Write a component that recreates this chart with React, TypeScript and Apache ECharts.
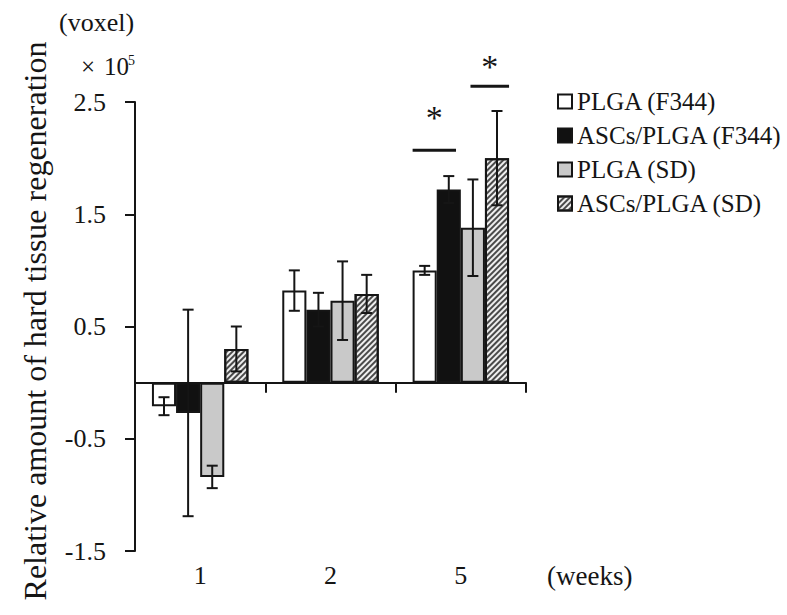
import React, { useEffect, useRef } from "react";
import * as echarts from "echarts";

const categories = ["1", "2", "5"];
const seriesNames = ["PLGA (F344)", "ASCs/PLGA (F344)", "PLGA (SD)", "ASCs/PLGA (SD)"];
const plgaF344 = [-0.21, 0.82, 1.0];
const ascsF344 = [-0.27, 0.65, 1.72];
const plgaSD = [-0.84, 0.73, 1.38];
const ascsSD = [0.3, 0.79, 2.0];
const plgaF344Err = [0.08, 0.18, 0.04];
const ascsF344Err = [0.92, 0.15, 0.12];
const plgaSDErr = [0.1, 0.35, 0.43];
const ascsSDErr = [0.2, 0.17, 0.42];
const yTickLabels = ["-1.5", "-0.5", "0.5", "1.5", "2.5"];
// significance marks: [category index, line value, asterisk value, from bar, to bar]
const sigMarks = [
  [2, 2.07, 2.4, 0, 1.8],
  [2, 2.64, 2.85, 2.4, 4],
];

const FONT = "'Liberation Serif', 'Times New Roman', serif";
const INK = "#151515";
const GAP = 0.26;
const N = 4;

export default function App() {
  const ref = useRef<HTMLDivElement>(null);
  useEffect(() => {
    if (!ref.current) return;
    const chart = echarts.init(ref.current, null, { renderer: "svg" });
    const values = [plgaF344, ascsF344, plgaSD, ascsSD];
    const errs = [plgaF344Err, ascsF344Err, plgaSDErr, ascsSDErr];
    const colors = ["#ffffff", "#111111", "#c9c9c9", "#eeeeee"];

    const errData: number[][] = [];
    values.forEach((vals, si) => {
      vals.forEach((v, ci) => errData.push([ci, si, v, errs[si][ci]]));
    });

    const barSeries = values.map((vals, si) => ({
      type: "bar",
      name: seriesNames[si],
      data: vals,
      xAxisIndex: 0,
      yAxisIndex: 0,
      barGap: "0%",
      barCategoryGap: GAP * 100 + "%",
      z: 2,
      itemStyle: {
        color: colors[si],
        borderColor: INK,
        borderWidth: 2,
        ...(si === 3
          ? {
              decal: {
                symbol: "rect",
                symbolSize: 1,
                dashArrayX: [1, 0],
                dashArrayY: [1.6, 1.9],
                rotation: -Math.PI / 4,
                color: "#4a4a4a",
              },
            }
          : {}),
      },
    }));

    const barX = (api: any, cat: number, pos: number) => {
      const band = api.size([1, 0])[0];
      const bw = (band * (1 - GAP)) / N;
      return api.coord([cat, 0])[0] - (band * (1 - GAP)) / 2 + pos * bw;
    };

    const option: any = {
      animation: false,
      grid: { left: 135, right: 261, top: 102, bottom: 64, containLabel: false },
      legend: {
        orient: "vertical",
        left: 552,
        top: 84,
        icon: "rect",
        itemWidth: 14,
        itemHeight: 14,
        itemGap: 9,
        data: seriesNames,
        textStyle: { fontFamily: FONT, fontSize: 25, color: INK, lineHeight: 24 },
      },
      xAxis: [
        {
          type: "category",
          data: categories,
          position: "bottom",
          axisLine: { show: false, onZero: false },
          axisTick: { show: false },
          axisLabel: { fontFamily: FONT, fontSize: 26, color: INK, margin: 11 },
        },
        {
          type: "category",
          data: categories,
          position: "bottom",
          axisLine: { show: true, onZero: true, onZeroAxisIndex: 0, lineStyle: { color: INK, width: 2 } },
          axisTick: { show: true, length: 10, lineStyle: { color: INK, width: 2 } },
          axisLabel: { show: false },
        },
      ],
      yAxis: [
        {
          type: "value",
          min: -1.5,
          max: 2.5,
          interval: 0.5,
          splitLine: { show: false },
          axisLine: { show: true, lineStyle: { color: INK, width: 2 } },
          axisTick: { show: false },
          axisLabel: {
            fontFamily: FONT,
            fontSize: 26,
            color: INK,
            margin: 29,
            formatter: (v: number) => {
              const s = v.toFixed(1);
              return yTickLabels.indexOf(s) >= 0 ? s : "";
            },
          },
        },
        {
          type: "value",
          position: "left",
          min: 0,
          max: yTickLabels.length - 1,
          interval: 1,
          splitLine: { show: false },
          axisLine: { show: false },
          axisTick: { show: true, length: 10, lineStyle: { color: INK, width: 2 } },
          axisLabel: { show: false },
        },
      ],
      series: [
        ...barSeries,
        {
          type: "custom",
          name: "errors",
          xAxisIndex: 0,
          yAxisIndex: 0,
          z: 5,
          data: errData,
          encode: { x: 0, y: 2 },
          renderItem: (params: any, api: any) => {
            const cat = api.value(0);
            const si = api.value(1);
            const v = api.value(2);
            const e = api.value(3);
            const cx = barX(api, cat, si + 0.5);
            const yt = api.coord([cat, v + e])[1];
            const yb = api.coord([cat, v - e])[1];
            const cap = 5.5;
            const st = { stroke: INK, lineWidth: 2 };
            return {
              type: "group",
              children: [
                { type: "line", shape: { x1: cx, y1: yt, x2: cx, y2: yb }, style: st },
                { type: "line", shape: { x1: cx - cap, y1: yt, x2: cx + cap, y2: yt }, style: st },
                { type: "line", shape: { x1: cx - cap, y1: yb, x2: cx + cap, y2: yb }, style: st },
              ],
            };
          },
        },
        {
          type: "custom",
          name: "sig",
          xAxisIndex: 0,
          yAxisIndex: 0,
          z: 5,
          data: sigMarks,
          encode: { x: 0, y: 1 },
          renderItem: (params: any, api: any) => {
            const cat = api.value(0);
            const yLine = api.coord([cat, api.value(1)])[1];
            const yStar = api.coord([cat, api.value(2)])[1];
            const x0 = barX(api, cat, api.value(3));
            const x1 = barX(api, cat, api.value(4));
            return {
              type: "group",
              children: [
                { type: "line", shape: { x1: x0, y1: yLine, x2: x1, y2: yLine }, style: { stroke: INK, lineWidth: 3 } },
                {
                  type: "text",
                  x: (x0 + x1) / 2,
                  y: yStar + 4,
                  style: {
                    text: "*",
                    fontFamily: FONT,
                    fontSize: 34,
                    fill: INK,
                    align: "center",
                    verticalAlign: "middle",
                  },
                },
              ],
            };
          },
        },
      ],
      graphic: [
        {
          type: "text",
          left: 59,
          top: 9,
          style: { text: "(voxel)", fontFamily: FONT, fontSize: 26, fill: INK },
        },
        {
          type: "text",
          x: 81,
          y: 66,
          style: { text: "×", fontFamily: FONT, fontSize: 25, fill: INK, verticalAlign: "middle" },
        },
        {
          type: "text",
          x: 104,
          y: 66,
          style: { text: "10", fontFamily: FONT, fontSize: 25, fill: INK, verticalAlign: "middle" },
        },
        {
          type: "text",
          x: 128,
          y: 60,
          style: { text: "5", fontFamily: FONT, fontSize: 14, fill: INK, verticalAlign: "middle" },
        },
        {
          type: "text",
          x: 35,
          y: 321,
          rotation: Math.PI / 2,
          style: {
            text: "Relative amount of hard tissue regeneration",
            fontFamily: FONT,
            fontSize: 32,
            fill: INK,
            align: "center",
            verticalAlign: "middle",
          },
        },
        {
          type: "text",
          x: 547,
          y: 576,
          style: { text: "(weeks)", fontFamily: FONT, fontSize: 27, fill: INK, verticalAlign: "middle" },
        },
      ],
    };
    chart.setOption(option);
    return () => chart.dispose();
  }, []);
  return <div ref={ref} style={{ position: "absolute", left: 0, top: 0, width: 787, height: 615, background: "#fff" }} />;
}
